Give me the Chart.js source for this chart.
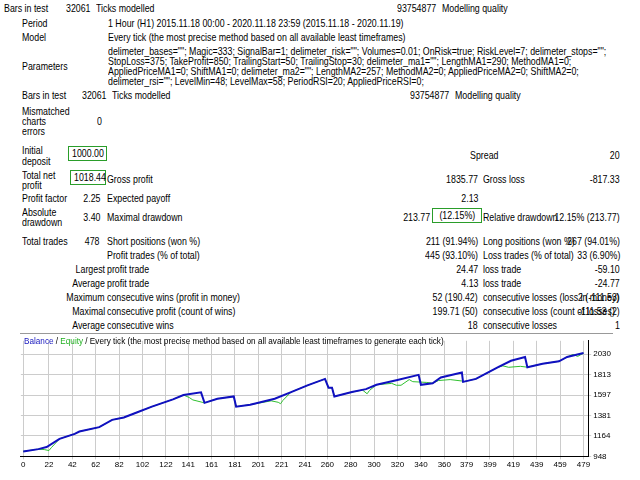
<!DOCTYPE html>
<html><head><meta charset="utf-8">
<script src="https://cdn.jsdelivr.net/npm/chart.js@4"></script>
<style>
body{margin:0;width:640px;height:480px;background:#fff;position:relative;overflow:hidden;font-family:"Liberation Sans",Arial,sans-serif;font-size:10.5px;color:#000}
.t{position:absolute;white-space:nowrap;line-height:12px;transform:scaleX(0.84);transform-origin:left center}
.r{text-align:right;transform-origin:right center}
.box{position:absolute;border:1px solid #2a9d2a;height:13px;line-height:13px;text-align:center;white-space:nowrap}
.box span{display:inline-block;transform:scaleX(0.84)}
#cw{position:absolute;left:20px;top:333px;width:593px;height:137px;border-top:1px solid #999}
#ttl{position:absolute;left:24px;top:335px;font-size:9.5px;white-space:nowrap;transform:scaleX(0.86);transform-origin:left center}
</style></head><body>
<div id="txt"></div>
<div id="cw"><canvas id="c" width="593" height="137"></canvas></div>
<div id="ttl"><span style="color:#2020c0">Balance</span> / <span style="color:#20b020">Equity</span> / Every tick (the most precise method based on all available least timeframes to generate each tick)</div>
<script>
// ---- data ----
const balX = [0,13,20,31,44,48,65,76,86,97,110,128,137,152,155,166,180,182,194,215,229,243,258,261,264,266,281,293,302,319,338,340,350,357,375,376,387,406,417,429,431,444,458,465,479];
const balY = [1001,1025,1047,1133,1186,1211,1257,1334,1359,1412,1474,1551,1597,1625,1514,1557,1582,1474,1495,1557,1628,1699,1767,1674,1674,1582,1628,1659,1705,1752,1810,1705,1721,1783,1835,1736,1767,1891,1959,1999,1891,1928,1953,1999,2040];
const eqX = [0,13,18,22,24,31,44,48,65,76,86,97,110,128,137,142,145,155,166,180,182,194,212,218,220,222,229,243,258,261,264,266,281,290,294,296,302,315,319,323,330,333,345,350,355,365,375,376,387,406,410,415,425,431,444,458,465,470,474,479];
const eqY = [1001,1025,1020,1010,1040,1133,1186,1211,1257,1334,1359,1412,1474,1551,1597,1570,1545,1514,1557,1582,1474,1495,1535,1520,1505,1540,1628,1699,1767,1674,1674,1582,1628,1650,1610,1645,1705,1720,1700,1700,1760,1738,1730,1721,1750,1760,1745,1736,1767,1891,1905,1890,1900,1891,1928,1953,1999,2025,2005,2040];
const xTicks = [0,22,42,62,82,102,122,141,161,181,201,221,241,260,280,300,320,340,360,379,399,419,439,459,479];
const yTicks = [948,1164,1381,1597,1813,2030];

// ---- report text ----
const L = [
 [4,2,"Bars in test"],[66,2,"32061"],[96,2,"Ticks modelled"],[397,2,"93754877"],[442,2,"Modelling quality"],
 [22,17,"Period"],[108,17,"1 Hour (H1) 2015.11.18 00:00 - 2020.11.18 23:59 (2015.11.18 - 2020.11.19)"],
 [22,31,"Model"],[108,31,"Every tick (the most precise method based on all available least timeframes)"],
 [22,60,"Parameters"],
 [108,45,"delimeter_bases=\"\"; Magic=333; SignalBar=1; delimeter_risk=\"\"; Volumes=0.01; OnRisk=true; RiskLevel=7; delimeter_stops=\"\";"],
 [108,55,"StopLoss=375; TakeProfit=850; TrailingStart=50; TrailingStop=30; delimeter_ma1=\"\"; LengthMA1=290; MethodMA1=0;"],
 [108,65,"AppliedPriceMA1=0; ShiftMA1=0; delimeter_ma2=\"\"; LengthMA2=257; MethodMA2=0; AppliedPriceMA2=0; ShiftMA2=0;"],
 [108,75,"delimeter_rsi=\"\"; LevelMin=48; LevelMax=58; PeriodRSI=20; AppliedPriceRSI=0;"],
 [22,89,"Bars in test"],[82,89,"32061"],[112,89,"Ticks modelled"],[410,89,"93754877"],[455,89,"Modelling quality"],
 [22,105,"Mismatched"],[22,115,"charts"],[22,125,"errors"],[97,115,"0"],
 [22,144,"Initial"],[22,155,"deposit"],[470,149,"Spread"],
 [22,169,"Total net"],[22,179,"profit"],[107,173,"Gross profit"],[483,173,"Gross loss"],
 [22,192,"Profit factor"],[107,192,"Expected payoff"],
 [22,206,"Absolute"],[22,216,"drawdown"],[107,211,"Maximal drawdown"],[483,211,"Relative drawdown"],
 [22,235,"Total trades"],[107,235,"Short positions (won %)"],[483,235,"Long positions (won %)"],
 [107,249,"Profit trades (% of total)"],[483,249,"Loss trades (% of total)"],
 [107,263,"profit trade"],[483,263,"loss trade"],
 [107,277,"profit trade"],[483,277,"loss trade"],
 [107,291,"consecutive wins (profit in money)"],[483,291,"consecutive losses (loss in money)"],
 [107,305,"consecutive profit (count of wins)"],[483,305,"consecutive loss (count of losses)"],
 [107,319,"consecutive wins"],[483,319,"consecutive losses"]
];
const R = [
 [620,149,"20"],[478,173,"1835.77"],[620,173,"-817.33"],[100,192,"2.25"],[478,192,"2.13"],
 [100,211,"3.40"],[430,211,"213.77"],[620,211,"12.15% (213.77)"],
 [100,235,"478"],[478,235,"211 (91.94%)"],[620,235,"267 (94.01%)"],
 [478,249,"445 (93.10%)"],[620,249,"33 (6.90%)"],
 [105,263,"Largest"],[478,263,"24.47"],[620,263,"-59.10"],
 [105,277,"Average"],[478,277,"4.13"],[620,277,"-24.77"],
 [105,291,"Maximum"],[478,291,"52 (190.42)"],[620,291,"2 (-111.53)"],
 [105,305,"Maximal"],[478,305,"199.71 (50)"],[620,305,"-111.53 (2)"],
 [105,319,"Average"],[478,319,"18"],[620,319,"1"]
];
const B = [[68,146,37,"1000.00"],[70,170,34,"1018.44"],[432,208,48,"(12.15%)"]];
let h="";
L.forEach(a=>h+=`<div class="t" style="left:${a[0]}px;top:${a[1]}px">${a[2]}</div>`);
R.forEach(a=>h+=`<div class="t r" style="right:${640-a[0]}px;top:${a[1]}px">${a[2]}</div>`);
B.forEach(a=>h+=`<div class="box" style="left:${a[0]}px;top:${a[1]}px;width:${a[2]}px"><span>${a[3]}</span></div>`);
document.getElementById('txt').innerHTML=h;

// ---- chart ----
const pts=(xs,ys)=>xs.map((x,i)=>({x:x,y:ys[i]}));
new Chart(document.getElementById('c'),{
 type:'line',
 data:{datasets:[
  {data:pts(balX,balY),borderColor:'#1010c0',borderWidth:2,pointRadius:0,tension:0,order:1},
  {data:pts(eqX,eqY),borderColor:'#30c030',borderWidth:1,pointRadius:0,tension:0,order:2}
 ]},
 options:{responsive:false,animation:false,devicePixelRatio:1,
  layout:{padding:0},
  plugins:{legend:{display:false},tooltip:{enabled:false}},
  scales:{
   x:{type:'linear',min:-2,max:483,
    afterDataLimits:s=>{s.min=-2;s.max=483;},
    afterBuildTicks:s=>{s.ticks=xTicks.map(v=>({value:v}));},
    ticks:{autoSkip:false,maxRotation:0,font:{size:8,family:'Liberation Sans'},color:'#000',padding:1,callback:v=>String(v)},
    grid:{color:'#ccc',tickLength:3},border:{color:'#000'}},
   y:{position:'right',min:948,max:2170,
    afterDataLimits:s=>{s.min=948;s.max=2170;},
    afterBuildTicks:s=>{s.ticks=yTicks.map(v=>({value:v}));},
    ticks:{font:{size:8,family:'Liberation Sans'},color:'#000',padding:2,callback:v=>String(v)},
    grid:{color:'#ccc',tickLength:3},border:{color:'#000'}}
  }}
});
</script></body></html>
